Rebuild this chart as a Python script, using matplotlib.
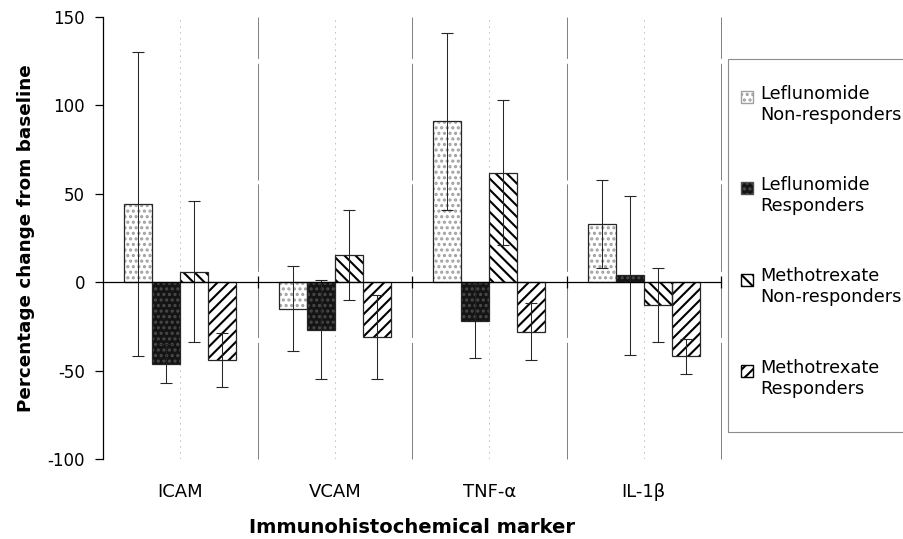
import numpy as np
import matplotlib
matplotlib.use("Agg")
import matplotlib.pyplot as plt
from matplotlib.patches import Patch, Rectangle
from matplotlib.legend_handler import HandlerPatch

# ----------------------------------------------------------------------
# Data
# ----------------------------------------------------------------------
markers = ["ICAM", "VCAM", "TNF-\u03b1", "IL-1\u03b2"]
series = ["Leflunomide\nNon-responders", "Leflunomide\nResponders",
          "Methotrexate\nNon-responders", "Methotrexate\nResponders"]

lef_nonresp = [44, -15, 91, 33]
lef_resp = [-46, -27, -22, 4]
mtx_nonresp = [6, 15.5, 62, -13]
mtx_resp = [-44, -31, -28, -42]

lef_nonresp_err = [86, 24, 50, 25]
lef_resp_err = [11, 28, 21, 45]
mtx_nonresp_err = [40, 25.5, 41, 21]
mtx_resp_err = [15, 24, 16, 10]

values = [lef_nonresp, lef_resp, mtx_nonresp, mtx_resp]
errors = [lef_nonresp_err, lef_resp_err, mtx_nonresp_err, mtx_resp_err]

# face, hatch, hatch colour per series
styles = [
    ("white", "...", "#a0a0a0"),
    ("#141414", "...", "#4a4a4a"),
    ("white", "\\\\\\", "black"),
    ("white", "///", "black"),
]

plt.rcParams["font.family"] = ["DejaVu Sans"]
plt.rcParams["hatch.linewidth"] = 1.5
plt.rcParams["axes.unicode_minus"] = False

fig = plt.figure(figsize=(9.04, 5.39), dpi=100)
ax = fig.add_axes([103 / 904, 1 - 459 / 539, 618 / 904, 442 / 539])

x = np.arange(len(markers))
width = 0.181
offsets = (np.arange(4) - 1.5) * width

# faint broken vertical lines (scan artefacts of the original)
for sep in x + 0.5:
    ax.axvline(sep, color="0.5", lw=0.7, ls=(0, (120, 5, 60, 8, 90, 4)),
               zorder=0, clip_on=False)
for c in x:
    ax.axvline(c, color="0.72", lw=0.6, ls=(0, (2, 5)), zorder=0)

for vals, errs, off, (face, hatch, hcol) in zip(values, errors, offsets, styles):
    ax.bar(x + off, vals, width, color=face, hatch=hatch, edgecolor=hcol,
           linewidth=0, zorder=2)
    ax.bar(x + off, vals, width, color="none", edgecolor="0.15",
           linewidth=0.9, zorder=3)
    ax.errorbar(x + off, vals, yerr=errs, fmt="none", ecolor="0.15",
                elinewidth=0.75, capsize=4, capthick=0.8, zorder=4)

ax.set_xlim(-0.5, 3.5)
ax.set_ylim(-100, 150)
ax.set_yticks([-100, -50, 0, 50, 100, 150])
ax.tick_params(axis="y", labelsize=12, length=6, width=0.9, pad=7,
               direction="out")
ax.set_xticks(x + 0.5)
ax.tick_params(axis="x", labelbottom=False, length=8, width=0.9,
               direction="inout")

for s in ["top", "right"]:
    ax.spines[s].set_visible(False)
ax.spines["bottom"].set_position(("data", 0))
ax.spines["bottom"].set_zorder(5)
ax.spines["left"].set_linewidth(0.9)
ax.spines["bottom"].set_linewidth(0.9)

for xi, name in zip(x, markers):
    ax.text(xi, -0.075, name, transform=ax.get_xaxis_transform(),
            ha="center", va="center", fontsize=13)

ax.text(0.5, -0.155, "Immunohistochemical marker", transform=ax.transAxes,
        ha="center", va="center", fontsize=14, fontweight="bold")
ax.set_ylabel("Percentage change from baseline", fontsize=13.2,
              fontweight="bold", labelpad=9)


# legend: handle sits next to the first line of each two-line label
def top_aligned(legend, orig_handle, xdescent, ydescent, width, height, fontsize):
    return Rectangle((-xdescent, -ydescent + 0.45 * fontsize), width, height)


handles = [Patch(facecolor=f, hatch=h, edgecolor=hc if f == "white" else "0.3")
           for f, h, hc in styles]
leg = fig.legend(handles, series, loc="upper left",
                 bbox_to_anchor=(741 / 904, 1 - 85 / 539), fontsize=12.8,
                 frameon=False, borderpad=0, labelspacing=2.95,
                 handlelength=0.65, handleheight=0.65, handletextpad=0.45,
                 borderaxespad=0,
                 handler_map={Patch: HandlerPatch(patch_func=top_aligned)})

fig.patches.append(Rectangle((728 / 904, 1 - 432 / 539), 0.3, 373 / 539,
                             transform=fig.transFigure, facecolor="none",
                             edgecolor="0.55", lw=0.8, clip_on=False))

fig.savefig("out.png", dpi=100)
